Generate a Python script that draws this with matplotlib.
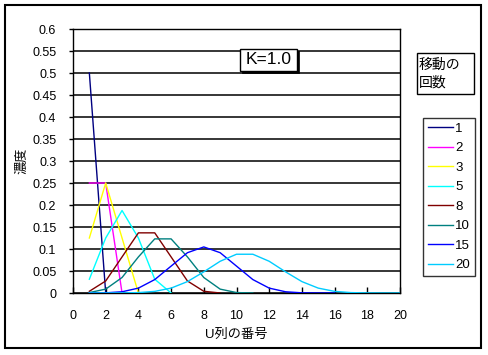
import matplotlib
matplotlib.use("Agg")
import matplotlib.pyplot as plt
from matplotlib.patches import Rectangle
from matplotlib.ticker import FuncFormatter

plt.rcParams['font.family'] = ['Liberation Sans', 'Noto Sans CJK JP', 'DejaVu Sans']

# ---- data ----
series_names = ['1', '2', '3', '5', '8', '10', '15', '20']
s1 = [0.5, 0.0]
s2 = [0.25, 0.25, 0.0]
s3 = [0.125, 0.25, 0.125, 0.0]
s5 = [0.0313, 0.125, 0.1875, 0.125, 0.0313, 0.0]
s8 = [0.0039, 0.0273, 0.0820, 0.1367, 0.1367, 0.0820, 0.0273, 0.0039, 0.0]
s10 = [0.0010, 0.0088, 0.0352, 0.0820, 0.1230, 0.1230, 0.0820, 0.0352, 0.0088, 0.0010, 0.0]
s15 = [0.0000, 0.0004, 0.0028, 0.0111, 0.0305, 0.0611, 0.0916, 0.1047, 0.0916,
       0.0611, 0.0305, 0.0111, 0.0028, 0.0004, 0.0000, 0.0]
s20 = [0.0000, 0.0000, 0.0002, 0.0009, 0.0037, 0.0111, 0.0259, 0.0481, 0.0721, 0.0881,
       0.0881, 0.0721, 0.0481, 0.0259, 0.0111, 0.0037, 0.0009, 0.0002, 0.0000, 0.0000, 0.0]
series_values = [s1, s2, s3, s5, s8, s10, s15, s20]
colors = ['#000080', '#FF00FF', '#FFFF00', '#00FFFF', '#800000', '#008080', '#0000FF', '#00CCFF']

x_ticks = [0, 2, 4, 6, 8, 10, 12, 14, 16, 18, 20]
y_ticks = [0, 0.05, 0.1, 0.15, 0.2, 0.25, 0.3, 0.35, 0.4, 0.45, 0.5, 0.55, 0.6]
x_label = 'U列の番号'
y_label = '濃度'
legend_title = '移動の\n回数'
annotation = 'K=1.0'

W, H = 488, 355
fig = plt.figure(figsize=(W / 100, H / 100), dpi=100)
fig.patch.set_facecolor('white')

ax = fig.add_axes([73 / W, 1 - 293 / H, (400 - 73) / W, (293 - 29) / H])
for name, vals, c in zip(series_names, series_values, colors):
    xs = list(range(1, len(vals) + 1))
    ax.plot(xs, vals, color=c, lw=1.0, label=name, zorder=3)

ax.set_xlim(0, 20)
ax.set_ylim(0, 0.6)
ax.set_xticks(x_ticks)
ax.set_yticks(y_ticks)
ax.yaxis.set_major_formatter(FuncFormatter(lambda v, p: '%g' % v))
ax.grid(axis='y', color='black', lw=1.1, zorder=1)
ax.set_axisbelow(True)
for sp in ax.spines.values():
    sp.set_color('black')
    sp.set_linewidth(1.0)
ax.tick_params(axis='x', direction='in', length=4, width=1, pad=12, labelsize=9)
ax.tick_params(axis='y', direction='out', length=3, width=1, pad=9, labelsize=9)
ax.set_xlabel(x_label, fontsize=9.5, labelpad=5)
ax.set_ylabel(y_label, fontsize=9.5, labelpad=3)

# outer border
fig.add_artist(Rectangle((5 / W, 1 - 348 / H), (481 - 5) / W, (348 - 5) / H,
                         transform=fig.transFigure, fill=False, ec='black', lw=1.5))

# K=1.0 box with shadow
fig.add_artist(Rectangle((242 / W, 1 - 73 / H), 57 / W, 22 / H,
                         transform=fig.transFigure, fc='black', ec='black', lw=0.5))
fig.add_artist(Rectangle((240 / W, 1 - 71 / H), 57 / W, 22 / H,
                         transform=fig.transFigure, fc='white', ec='black', lw=1.0))
fig.text(268.5 / W, 1 - 60 / H, annotation, ha='center', va='center', fontsize=12.5)

# legend title box
fig.add_artist(Rectangle((417 / W, 1 - 94 / H), 57 / W, 41 / H,
                         transform=fig.transFigure, fill=False, ec='black', lw=1.0))
fig.text(419 / W, 1 - 73.5 / H, legend_title, ha='left', va='center', fontsize=10,
         linespacing=1.35)

leg = fig.legend(loc='upper left', bbox_to_anchor=(423 / W, 1 - 118 / H),
                 fontsize=9.5, frameon=True, fancybox=False, edgecolor='black',
                 handlelength=1.9, handletextpad=0.2, labelspacing=0.55,
                 borderpad=0.35, borderaxespad=0)
leg.get_frame().set_linewidth(1.0)

fig.savefig('out.png', dpi=100, facecolor='white')
